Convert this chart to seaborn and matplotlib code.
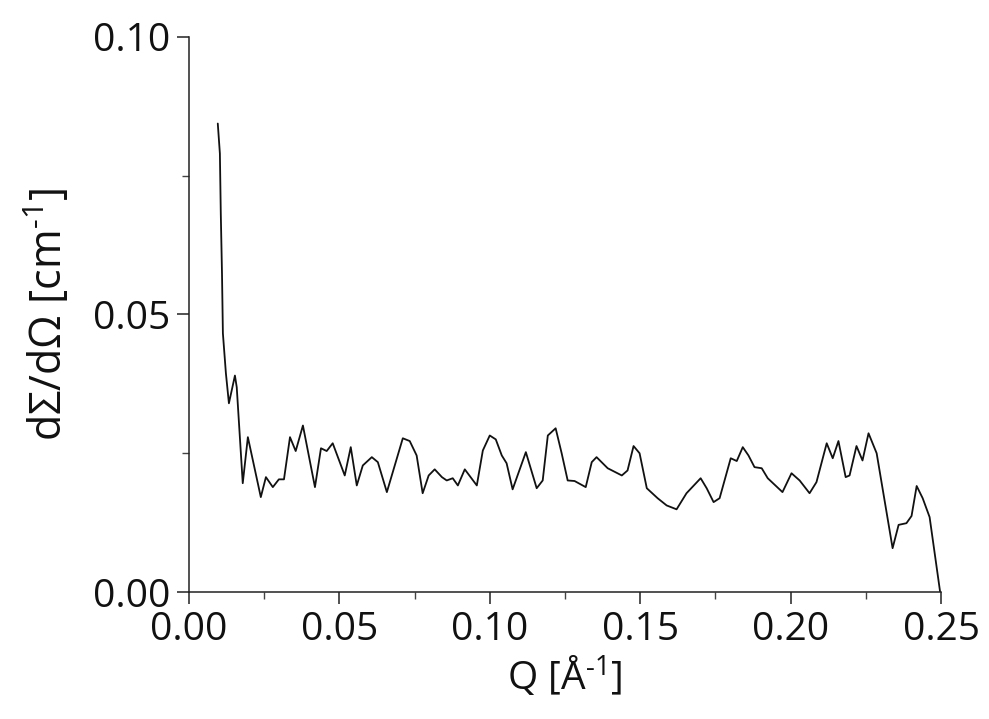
import numpy as np
import pandas as pd
import matplotlib
matplotlib.use("Agg")
import matplotlib.pyplot as plt
from matplotlib.ticker import MultipleLocator, FormatStrFormatter
import seaborn as sns

# Scattering vector Q [1/Å]
q = [0.0096, 0.0103, 0.0106, 0.0110, 0.0113, 0.0123, 0.0133, 0.0153, 0.0159, 0.0179,
     0.0196, 0.0239, 0.0256, 0.0279, 0.0299, 0.0316, 0.0336, 0.0355, 0.0379, 0.0419,
     0.0439, 0.0458, 0.0478, 0.0518, 0.0538, 0.0558, 0.0578, 0.0608, 0.0628, 0.0658,
     0.0711, 0.0734, 0.0757, 0.0777, 0.0797, 0.0817, 0.0841, 0.0857, 0.0877, 0.0894,
     0.0917, 0.0957, 0.0977, 0.1000, 0.1020, 0.1040, 0.1056, 0.1076, 0.1120, 0.1156,
     0.1176, 0.1193, 0.1219, 0.1239, 0.1259, 0.1282, 0.1319, 0.1339, 0.1355, 0.1392,
     0.1439, 0.1458, 0.1478, 0.1498, 0.1522, 0.1558, 0.1588, 0.1621, 0.1654, 0.1701,
     0.1721, 0.1744, 0.1764, 0.1801, 0.1821, 0.1841, 0.1860, 0.1880, 0.1904, 0.1924,
     0.1973, 0.2003, 0.2030, 0.2063, 0.2086, 0.2120, 0.2140, 0.2159, 0.2183, 0.2196,
     0.2219, 0.2239, 0.2259, 0.2286, 0.2339, 0.2359, 0.2385, 0.2402, 0.2419, 0.2439,
     0.2462, 0.2497]

# Differential scattering cross section dΣ/dΩ [1/cm]
intensity = [0.0844, 0.0790, 0.0682, 0.0574, 0.0466, 0.0394, 0.0340, 0.0390, 0.0369, 0.0196,
             0.0279, 0.0171, 0.0207, 0.0189, 0.0203, 0.0203, 0.0279, 0.0254, 0.0300, 0.0189,
             0.0259, 0.0254, 0.0268, 0.0210, 0.0261, 0.0192, 0.0228, 0.0243, 0.0234, 0.0180,
             0.0277, 0.0272, 0.0246, 0.0178, 0.0210, 0.0221, 0.0207, 0.0201, 0.0205, 0.0192,
             0.0221, 0.0192, 0.0255, 0.0282, 0.0275, 0.0246, 0.0232, 0.0185, 0.0252, 0.0187,
             0.0201, 0.0282, 0.0295, 0.0250, 0.0201, 0.0200, 0.0189, 0.0234, 0.0243, 0.0223,
             0.0210, 0.0219, 0.0263, 0.0250, 0.0187, 0.0169, 0.0156, 0.0149, 0.0178, 0.0205,
             0.0187, 0.0162, 0.0169, 0.0241, 0.0236, 0.0261, 0.0246, 0.0225, 0.0223, 0.0205,
             0.0180, 0.0214, 0.0201, 0.0178, 0.0198, 0.0268, 0.0241, 0.0272, 0.0207, 0.0210,
             0.0263, 0.0237, 0.0286, 0.0250, 0.0079, 0.0121, 0.0124, 0.0137, 0.0191, 0.0169,
             0.0135, 0.0000]

x_ticks = [0.00, 0.05, 0.10, 0.15, 0.20, 0.25]
y_ticks = [0.00, 0.05, 0.10]

df = pd.DataFrame({"Q": q, "I": intensity})

sns.set_theme(style="ticks")
plt.rcParams["font.family"] = ["Open Sans", "DejaVu Sans"]
plt.rcParams["mathtext.default"] = "regular"

fig = plt.figure(figsize=(9.89, 7.19), dpi=100)
ax = fig.add_axes([0.191, 0.1766, 0.7605, 0.772])

sns.lineplot(data=df, x="Q", y="I", ax=ax, color="#111111", linewidth=1.3,
             sort=False, estimator=None)

ax.set_xlim(0.0, 0.25)
ax.set_ylim(0.0, 0.10)
ax.set_xticks(x_ticks)
ax.set_yticks(y_ticks)
ax.xaxis.set_major_formatter(FormatStrFormatter("%.2f"))
ax.yaxis.set_major_formatter(FormatStrFormatter("%.2f"))
ax.xaxis.set_minor_locator(MultipleLocator(0.025))
ax.yaxis.set_minor_locator(MultipleLocator(0.025))

for side in ("top", "right"):
    ax.spines[side].set_visible(False)
for side in ("left", "bottom"):
    ax.spines[side].set_color("#222222")
    ax.spines[side].set_linewidth(1.1)

ax.tick_params(axis="both", which="major", direction="out", length=8.5, width=1.1,
               color="#222222", labelsize=28, labelcolor="#111111", pad=5)
ax.tick_params(axis="both", which="minor", direction="out", length=5, width=1.0,
               color="#444444")

ax.set_xlabel("Q [Å$^{\u2010 1}$]", fontsize=28, color="#111111", labelpad=4)
ax.set_ylabel("dΣ/dΩ [cm$^{\u2010 1}$]", fontsize=31, color="#111111", labelpad=14)

fig.savefig("out.png", dpi=100, facecolor="white")
